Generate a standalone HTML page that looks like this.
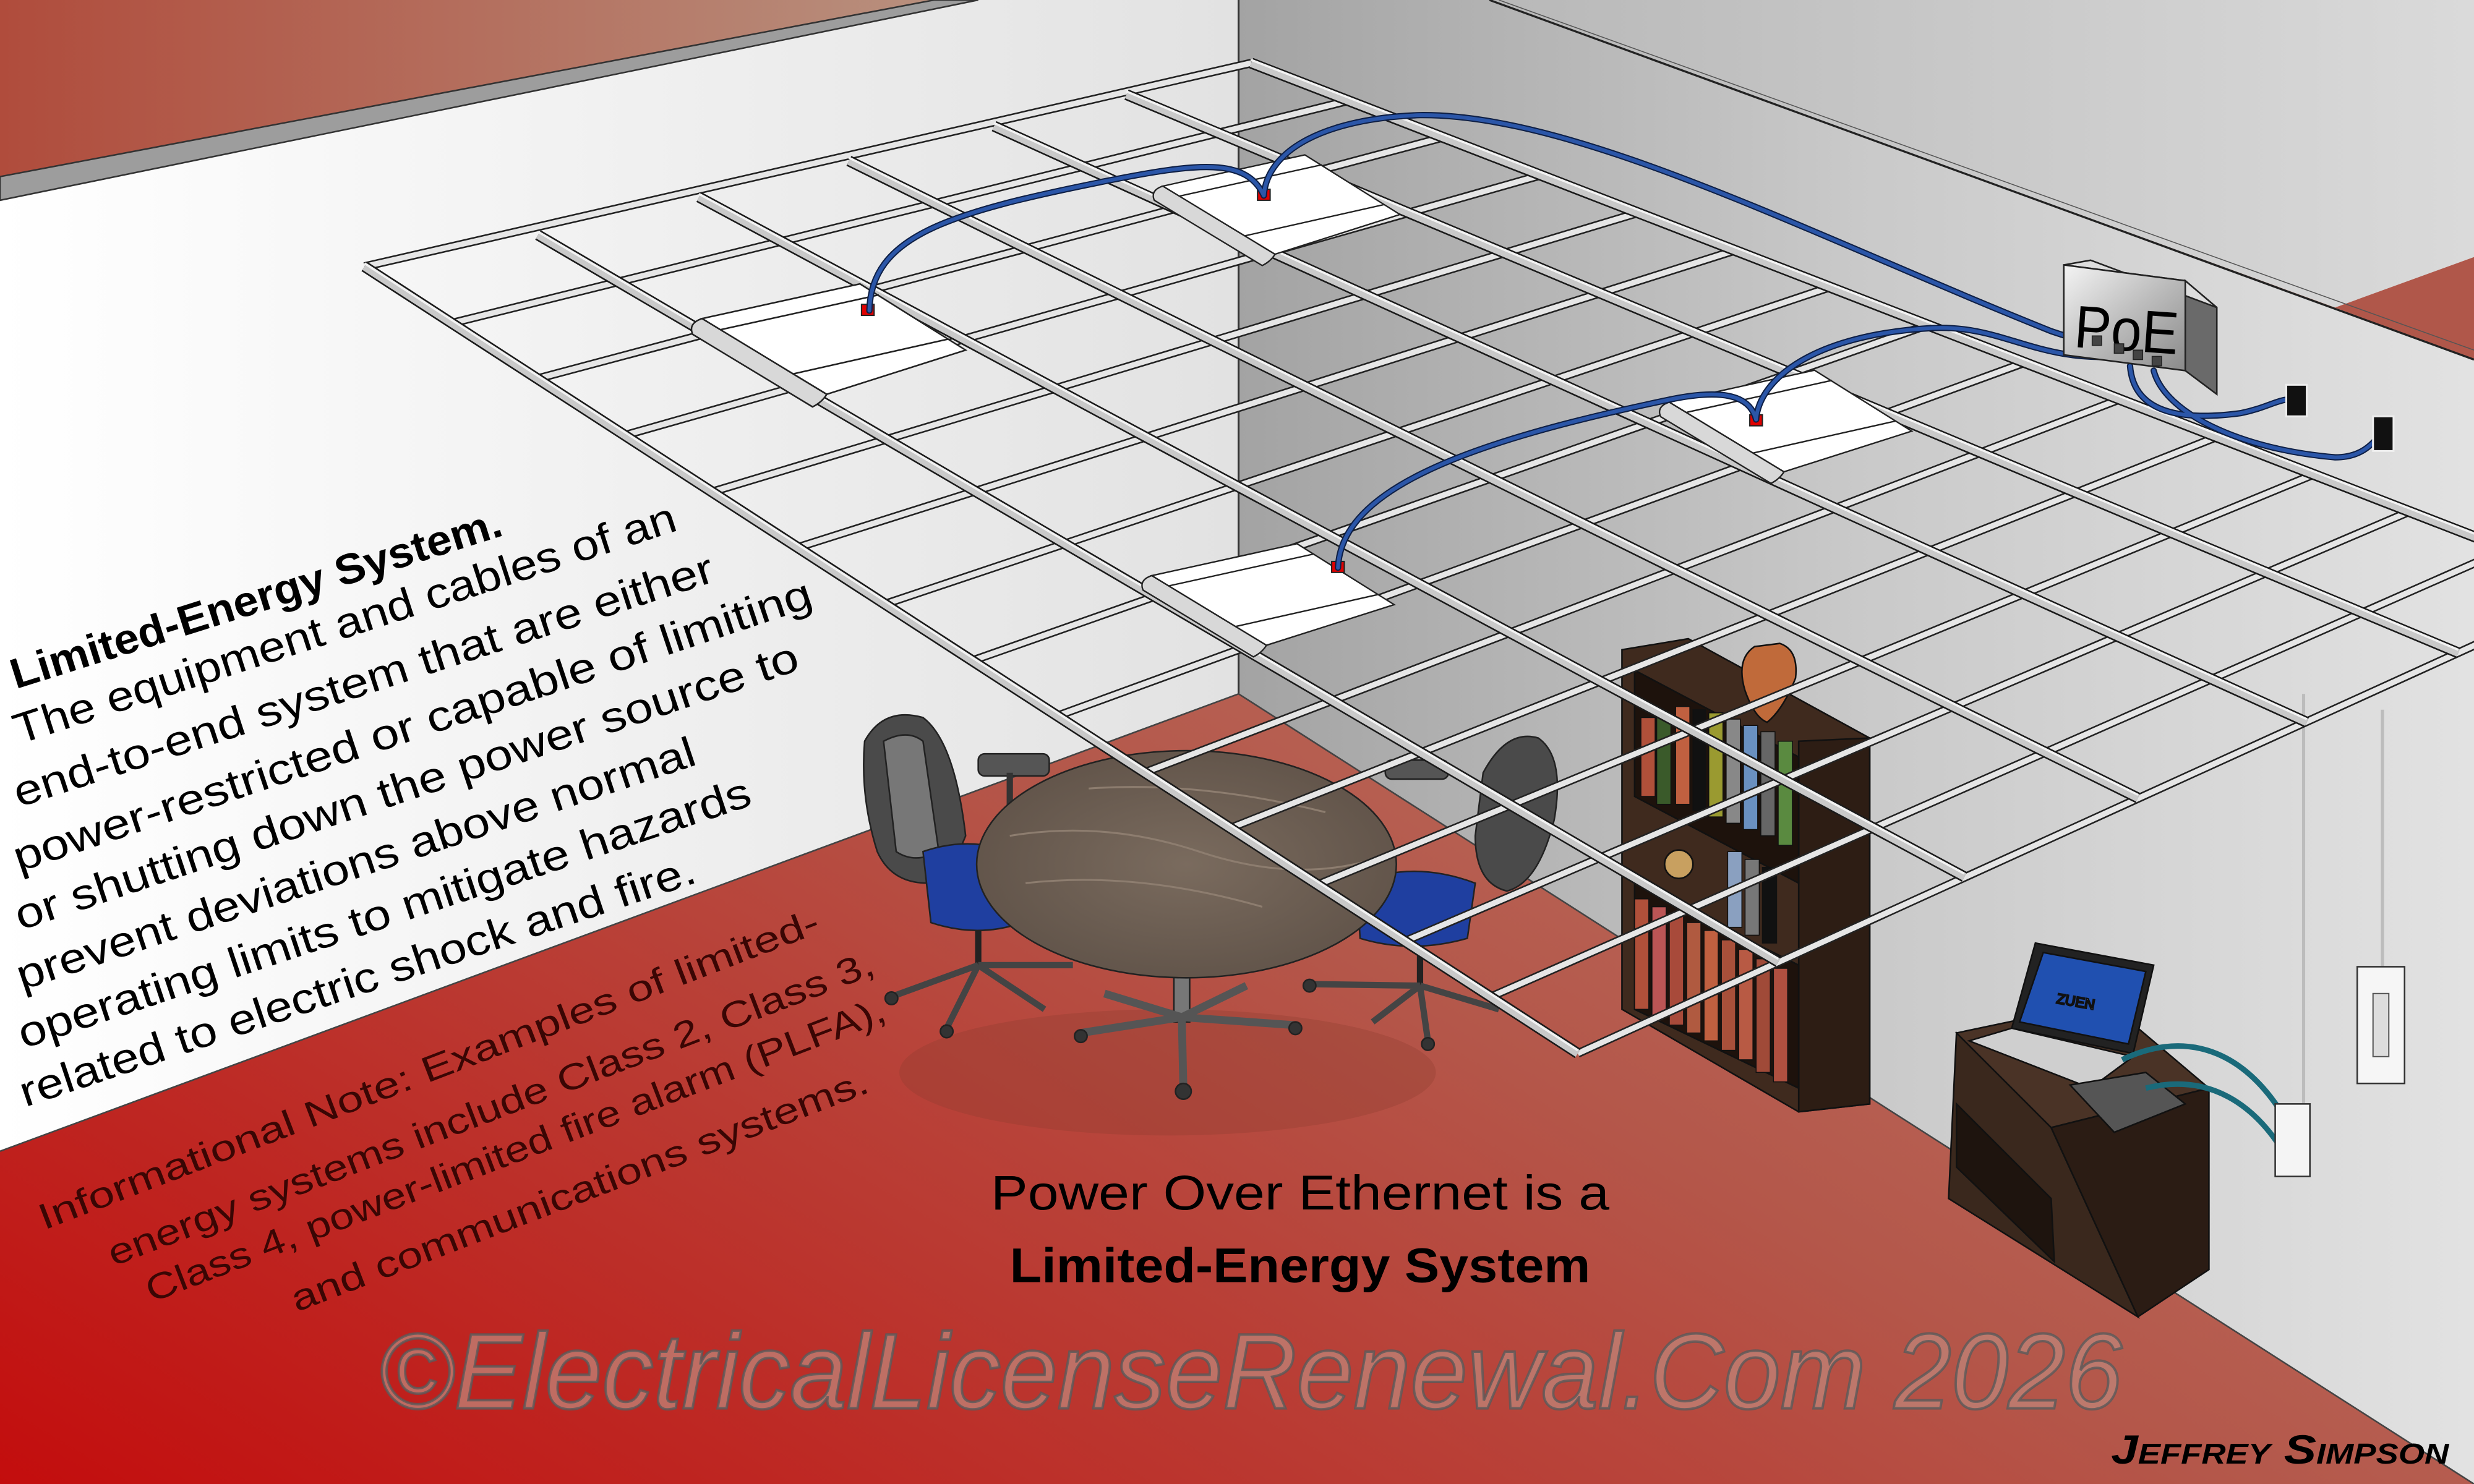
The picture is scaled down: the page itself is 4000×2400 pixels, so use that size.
<!DOCTYPE html>
<html><head><meta charset="utf-8"><style>
html,body{margin:0;padding:0;width:4000px;height:2400px;overflow:hidden;background:#b5614e}
svg{display:block}
</style></head><body>
<svg width="4000" height="2400" viewBox="0 0 1568 941" preserveAspectRatio="none" xmlns="http://www.w3.org/2000/svg">
<defs>
<linearGradient id="floor" x1="0" y1="1" x2="1" y2="0">
<stop offset="0" stop-color="#c30d0d"/><stop offset="0.45" stop-color="#b4574a"/><stop offset="1" stop-color="#c49482"/></linearGradient>
<linearGradient id="ceil" x1="0" y1="0" x2="1" y2="0">
<stop offset="0" stop-color="#b04c3c"/><stop offset="1" stop-color="#b8907e"/></linearGradient>
<linearGradient id="lwall" x1="0" y1="0" x2="1" y2="0">
<stop offset="0" stop-color="#ffffff"/><stop offset="1" stop-color="#e2e2e2"/></linearGradient>
<linearGradient id="rwall" x1="0" y1="0" x2="1" y2="0">
<stop offset="0" stop-color="#a3a3a3"/><stop offset="0.5" stop-color="#c9c9c9"/><stop offset="1" stop-color="#e2e2e2"/></linearGradient>
<linearGradient id="upper" x1="0" y1="0" x2="1" y2="0">
<stop offset="0" stop-color="#b8b8b8"/><stop offset="1" stop-color="#dadada"/></linearGradient>
<linearGradient id="poe" x1="0" y1="0" x2="1" y2="1">
<stop offset="0" stop-color="#f4f4f4"/><stop offset="0.5" stop-color="#bdbdbd"/><stop offset="1" stop-color="#8a8a8a"/></linearGradient>
<radialGradient id="tbl" cx="0.5" cy="0.5" r="0.6">
<stop offset="0" stop-color="#7a6b5e"/><stop offset="1" stop-color="#5e5147"/></radialGradient>
<g id="lamp">
<path d="M0,0 Q-9,3 -6,10 L70,56 Q76,53 79,48 Z" fill="#d8d8d8" stroke="#222" stroke-width="1"/>
<polygon points="0,0 100,-22 167,20 79,48" fill="#fff" stroke="#222" stroke-width="1"/>
<line x1="12" y1="7" x2="112" y2="-15" stroke="#222" stroke-width="1"/>
<line x1="58" y1="35" x2="156" y2="13" stroke="#222" stroke-width="1"/>
</g>
</defs>

<rect x="0" y="0" width="1568" height="941" fill="url(#floor)"/>
<polygon points="0,0 592,0 0,112" fill="url(#ceil)"/>
<polygon points="0,112 592,0 785,0 785,440 0,730" fill="url(#lwall)"/>
<polygon points="0,112 592,0 620,0 0,127" fill="#9d9d9d" stroke="#333" stroke-width="1"/>
<polygon points="785,0 944,0 1568,228 1568,941 785,440" fill="url(#rwall)"/>
<polygon points="944,0 1568,0 1568,165 1480,195" fill="url(#upper)"/>
<polygon points="1480,195 1568,163 1568,228" fill="#b0574a"/>
<polyline points="944,0 1568,228" fill="none" stroke="#222" stroke-width="1.3"/>
<polyline points="950,0 1568,222" fill="none" stroke="#555" stroke-width="0.6"/>
<line x1="785" y1="0" x2="785" y2="440" stroke="#333" stroke-width="1.2"/>
<line x1="0" y1="730" x2="785" y2="440" stroke="#444" stroke-width="1"/>
<line x1="785" y1="440" x2="1568" y2="941" stroke="#444" stroke-width="1"/>
<line x1="1460" y1="440" x2="1460" y2="705" stroke="#bcbcbc" stroke-width="2"/>
<line x1="1510" y1="450" x2="1510" y2="615" stroke="#bcbcbc" stroke-width="2"/>

<ellipse cx="740" cy="680" rx="170" ry="40" fill="#8a3a30" opacity="0.3"/>

<g stroke="#222" stroke-width="1">
<path d="M548,470 Q560,448 585,455 Q605,470 612,530 Q600,560 588,560 Q565,560 556,540 Q545,505 548,470Z" fill="#4a4a4a"/>
<path d="M560,470 Q575,462 585,470 L595,540 Q580,548 568,540Z" fill="#777"/>
<rect x="620" y="478" width="45" height="14" rx="4" fill="#555"/>
<line x1="640" y1="490" x2="640" y2="540" stroke="#333" stroke-width="4"/>
<path d="M585,540 Q620,528 650,545 L648,585 Q620,595 590,585Z" fill="#1f3fa0"/>
<line x1="620" y1="590" x2="620" y2="612" stroke-width="4"/>
<path d="M620,612 L565,632 M620,612 L600,652 M620,612 L662,640 M620,612 L680,612" stroke="#444" stroke-width="4"/>
<circle cx="565" cy="633" r="4" fill="#333"/><circle cx="600" cy="654" r="4" fill="#333"/>
</g>
<g stroke="#222" stroke-width="1">
<path d="M940,490 Q955,462 975,468 Q992,480 985,520 Q975,560 955,565 Q935,560 935,530Z" fill="#4a4a4a"/>
<rect x="878" y="482" width="40" height="12" rx="4" fill="#555"/>
<path d="M860,560 Q895,545 935,560 L930,595 Q895,605 862,595Z" fill="#1f3fa0"/>
<line x1="900" y1="600" x2="900" y2="625" stroke-width="4"/>
<path d="M900,625 L830,624 M900,625 L870,648 M900,625 L905,660 M900,625 L950,640" stroke="#444" stroke-width="4"/>
<circle cx="830" cy="625" r="4" fill="#333"/><circle cx="905" cy="662" r="4" fill="#333"/>
</g>
<g stroke="#222" stroke-width="1">
<rect x="744" y="590" width="10" height="58" fill="#777"/>
<path d="M749,645 L685,655 M749,645 L750,690 M749,645 L820,650 M749,645 L790,625 M749,645 L700,630" stroke="#555" stroke-width="5"/>
<circle cx="685" cy="657" r="4" fill="#333"/><circle cx="750" cy="692" r="5" fill="#333"/><circle cx="821" cy="652" r="4" fill="#333"/>
<ellipse cx="752" cy="548" rx="133" ry="72" fill="url(#tbl)"/>
<path d="M640,530 Q700,520 760,540 T870,545 M650,560 Q720,552 800,575 M690,500 Q760,495 840,515" stroke="#8d7d6f" stroke-width="1.2" fill="none"/>
</g>

<g stroke="#111" stroke-width="1">
<polygon points="1028,412 1070,405 1185,468 1185,700 1140,705 1028,640" fill="#3f2a1e"/>
<polygon points="1140,470 1185,468 1185,700 1140,705" fill="#2d1d14"/>
<polygon points="1036,425 1140,480 1140,560 1036,505" fill="#1d120c"/>
<polygon points="1036,560 1140,612 1140,690 1036,640" fill="#1d120c"/>
<g stroke-width="0.6">
<rect x="1040" y="455" width="9" height="50" fill="#b0503a"/><rect x="1050" y="455" width="9" height="55" fill="#3a5a2a"/>
<rect x="1062" y="448" width="9" height="62" fill="#c06040"/><rect x="1073" y="450" width="8" height="64" fill="#111"/>
<rect x="1083" y="452" width="9" height="66" fill="#9a9a30"/><rect x="1094" y="456" width="9" height="66" fill="#888"/>
<rect x="1105" y="460" width="9" height="66" fill="#6a90c0"/><rect x="1116" y="464" width="9" height="66" fill="#666"/>
<rect x="1127" y="470" width="9" height="66" fill="#5a8a40"/>
<rect x="1036" y="570" width="9" height="70" fill="#b0503a"/><rect x="1047" y="575" width="9" height="70" fill="#b55"/>
<rect x="1058" y="580" width="9" height="70" fill="#a84a3a"/><rect x="1069" y="585" width="9" height="70" fill="#b05a40"/>
<rect x="1080" y="590" width="9" height="70" fill="#c06040"/><rect x="1091" y="596" width="9" height="70" fill="#a8503a"/>
<rect x="1102" y="602" width="9" height="70" fill="#b85a44"/><rect x="1113" y="608" width="9" height="72" fill="#a04a38"/>
<rect x="1124" y="614" width="9" height="72" fill="#b05040"/>
<rect x="1095" y="540" width="9" height="48" fill="#8aa0c0"/><rect x="1106" y="545" width="9" height="48" fill="#777"/><rect x="1117" y="550" width="9" height="48" fill="#111"/>
</g>
<path d="M1112,410 Q1100,418 1106,438 Q1112,455 1120,458 Q1130,450 1138,430 Q1140,412 1128,408Z" fill="#c06a3a"/>
<circle cx="1064" cy="548" r="9" fill="#c8a060"/>
</g>

<g stroke="#111" stroke-width="1">
<polygon points="1240,655 1335,635 1400,690 1300,715" fill="#4a3326"/>
<polygon points="1240,655 1300,715 1355,835 1235,760" fill="#3a281d"/>
<polygon points="1300,715 1400,690 1400,805 1355,835" fill="#2b1c14"/>
<polygon points="1240,700 1300,760 1302,800 1240,740" fill="#1e140e"/>
<polygon points="1290,598 1365,612 1352,668 1275,652" fill="#222"/>
<polygon points="1295,604 1360,616 1349,662 1280,648" fill="#2050b0"/>
<text x="1303" y="636" font-family="Liberation Sans, sans-serif" font-size="9" fill="#fff" transform="rotate(10 1303 636)">ZUEN</text>
<polygon points="1248,660 1275,652 1352,670 1325,690" fill="#cfcfcf"/>
<polygon points="1312,688 1360,680 1385,700 1340,718" fill="#555"/>
</g>
<path d="M1345,672 C1380,655 1420,660 1450,712" fill="none" stroke="#1a6a7a" stroke-width="3.5"/>
<path d="M1360,690 C1400,680 1430,700 1450,735" fill="none" stroke="#1a6a7a" stroke-width="3.5"/>
<rect x="1442" y="700" width="22" height="46" fill="#f4f4f4" stroke="#333" stroke-width="1"/>
<rect x="1494" y="613" width="30" height="74" fill="#f6f6f6" stroke="#333" stroke-width="1"/>
<rect x="1504" y="630" width="10" height="40" fill="#ddd" stroke="#555" stroke-width="0.8"/>

<!-- grid -->
<g id="tees">
<g stroke="#222" stroke-width="5.5">
<line x1="286" y1="205" x2="854" y2="64"/><line x1="341" y1="240" x2="915" y2="87"/>
<line x1="396" y1="276" x2="977" y2="111"/><line x1="451" y1="312" x2="1038" y2="135"/>
<line x1="506" y1="347" x2="1099" y2="159"/><line x1="561" y1="383" x2="1160" y2="182"/>
<line x1="616" y1="419" x2="1222" y2="206"/><line x1="670" y1="454" x2="1283" y2="230"/>
<line x1="725" y1="490" x2="1344" y2="253"/><line x1="780" y1="525" x2="1405" y2="277"/>
<line x1="835" y1="561" x2="1466" y2="301"/><line x1="890" y1="597" x2="1528" y2="324"/>
<line x1="945" y1="632" x2="1589" y2="348"/>
<line x1="231" y1="169" x2="793" y2="40"/><line x1="1000" y1="668" x2="1650" y2="372"/>
</g>
<g stroke="#e6e6e6" stroke-width="3.5">
<line x1="286" y1="205" x2="854" y2="64"/><line x1="341" y1="240" x2="915" y2="87"/>
<line x1="396" y1="276" x2="977" y2="111"/><line x1="451" y1="312" x2="1038" y2="135"/>
<line x1="506" y1="347" x2="1099" y2="159"/><line x1="561" y1="383" x2="1160" y2="182"/>
<line x1="616" y1="419" x2="1222" y2="206"/><line x1="670" y1="454" x2="1283" y2="230"/>
<line x1="725" y1="490" x2="1344" y2="253"/><line x1="780" y1="525" x2="1405" y2="277"/>
<line x1="835" y1="561" x2="1466" y2="301"/><line x1="890" y1="597" x2="1528" y2="324"/>
<line x1="945" y1="632" x2="1589" y2="348"/>
<line x1="231" y1="169" x2="793" y2="40"/><line x1="1000" y1="668" x2="1650" y2="372"/>
</g>
</g>
<g stroke="#1a1a1a" stroke-width="7">
<line x1="231" y1="169" x2="1000" y2="668"/><line x1="341" y1="149" x2="1127" y2="610"/>
<line x1="443" y1="125" x2="1245" y2="556"/><line x1="538" y1="102" x2="1355" y2="506"/>
<line x1="630" y1="80" x2="1462" y2="458"/><line x1="714" y1="60" x2="1558" y2="414"/>
<line x1="793" y1="40" x2="1650" y2="372"/>
</g>
<g stroke="#c9c9c9" stroke-width="5">
<line x1="231" y1="169" x2="1000" y2="668"/><line x1="341" y1="149" x2="1127" y2="610"/>
<line x1="443" y1="125" x2="1245" y2="556"/><line x1="538" y1="102" x2="1355" y2="506"/>
<line x1="630" y1="80" x2="1462" y2="458"/><line x1="714" y1="60" x2="1558" y2="414"/>
<line x1="793" y1="40" x2="1650" y2="372"/>
</g>
<g stroke="#f2f2f2" stroke-width="1.4">
<line x1="231" y1="167" x2="1000" y2="666"/><line x1="341" y1="147" x2="1127" y2="608"/>
<line x1="443" y1="123" x2="1245" y2="554"/><line x1="538" y1="100" x2="1355" y2="504"/>
<line x1="630" y1="78" x2="1462" y2="456"/><line x1="714" y1="58" x2="1558" y2="412"/>
<line x1="793" y1="38" x2="1650" y2="370"/>
</g>

<!-- lights -->
<use href="#lamp" transform="translate(445,202)"/>
<use href="#lamp" transform="translate(737,118) scale(0.9)"/>
<use href="#lamp" transform="translate(1058,255) scale(0.92)"/>
<use href="#lamp" transform="translate(730,365) scale(0.92)"/>
<g fill="#e00000" stroke="#222" stroke-width="0.8">
<rect x="546" y="193" width="8" height="7"/><rect x="797" y="120" width="8" height="7"/>
<rect x="1109" y="263" width="8" height="7"/><rect x="844" y="356" width="8" height="7"/>
</g>

<!-- cables -->
<g fill="none" stroke-linecap="round">
<g stroke="#0e1f45" stroke-width="4">
<path d="M551,197 C552,150 600,135 700,115 C760,103 790,100 801,124"/>
<path d="M801,124 C803,95 840,75 900,73 C1000,72 1150,150 1300,210 C1315,215 1325,218 1330,218"/>
<path d="M848,360 C850,310 930,280 1060,253 C1100,245 1110,255 1113,266"/>
<path d="M1113,266 C1115,240 1150,212 1225,208 C1270,206 1290,230 1345,226"/>
<path d="M1350,232 C1352,258 1375,268 1420,262 C1440,258 1448,250 1455,255"/>
<path d="M1365,235 C1372,262 1420,285 1480,290 C1500,290 1505,278 1510,275"/>
</g>
<g stroke="#2b56a8" stroke-width="2.4">
<path d="M551,197 C552,150 600,135 700,115 C760,103 790,100 801,124"/>
<path d="M801,124 C803,95 840,75 900,73 C1000,72 1150,150 1300,210 C1315,215 1325,218 1330,218"/>
<path d="M848,360 C850,310 930,280 1060,253 C1100,245 1110,255 1113,266"/>
<path d="M1113,266 C1115,240 1150,212 1225,208 C1270,206 1290,230 1345,226"/>
<path d="M1350,232 C1352,258 1375,268 1420,262 C1440,258 1448,250 1455,255"/>
<path d="M1365,235 C1372,262 1420,285 1480,290 C1500,290 1505,278 1510,275"/>
</g>
</g>
<polygon points="1385,178 1405,195 1405,250 1385,235" fill="#6a6a6a" stroke="#222" stroke-width="1"/>
<polygon points="1308,168 1325,165 1405,195 1385,178" fill="#ddd" stroke="#222" stroke-width="1"/>
<polygon points="1308,168 1385,178 1385,235 1308,225" fill="url(#poe)" stroke="#222" stroke-width="1"/>
<text x="1314" y="220" font-family="Liberation Sans, sans-serif" font-size="38" fill="#000" transform="rotate(4 1314 220)" textLength="66" lengthAdjust="spacingAndGlyphs">PoE</text>
<g fill="#444" stroke="#222" stroke-width="0.6">
<rect x="1326" y="213" width="6" height="6"/><rect x="1340" y="218" width="6" height="6"/><rect x="1352" y="222" width="6" height="6"/><rect x="1364" y="226" width="6" height="6"/>
</g>
<rect x="1449" y="244" width="13" height="20" fill="#111" stroke="#eee" stroke-width="1.2"/>
<rect x="1504" y="264" width="13" height="22" fill="#111" stroke="#eee" stroke-width="1.2"/>

<g font-family="Liberation Sans, 'DejaVu Sans', sans-serif" font-size="27" fill="#000">
<text x="10" y="437" font-weight="bold" transform="rotate(-17.5 10 437)" textLength="325" lengthAdjust="spacingAndGlyphs">Limited-Energy System.</text>
<text x="12" y="472" transform="rotate(-18 12 472)" textLength="440" lengthAdjust="spacingAndGlyphs">The equipment and cables of an</text>
<text x="12" y="512" transform="rotate(-18 12 512)" textLength="465" lengthAdjust="spacingAndGlyphs">end-to-end system that are either</text>
<text x="12" y="553" transform="rotate(-18.5 12 553)" textLength="532" lengthAdjust="spacingAndGlyphs">power-restricted or capable of limiting</text>
<text x="13" y="590" transform="rotate(-18.5 13 590)" textLength="522" lengthAdjust="spacingAndGlyphs">or shutting down the power source to</text>
<text x="14" y="628" transform="rotate(-18.5 14 628)" textLength="452" lengthAdjust="spacingAndGlyphs">prevent deviations above normal</text>
<text x="15" y="665" transform="rotate(-18.5 15 665)" textLength="488" lengthAdjust="spacingAndGlyphs">operating limits to mitigate hazards</text>
<text x="16" y="702" transform="rotate(-18.5 16 702)" textLength="450" lengthAdjust="spacingAndGlyphs">related to electric shock and fire.</text>
</g>
<g font-family="Liberation Sans, 'DejaVu Sans', sans-serif" font-size="23" fill="#3a0604">
<text x="28" y="780" transform="rotate(-21 28 780)" textLength="528" lengthAdjust="spacingAndGlyphs">Informational Note: Examples of limited-</text>
<text x="72" y="803" transform="rotate(-21 72 803)" textLength="518" lengthAdjust="spacingAndGlyphs">energy systems include Class 2, Class 3,</text>
<text x="96" y="826" transform="rotate(-21 96 826)" textLength="500" lengthAdjust="spacingAndGlyphs">Class 4, power-limited fire alarm (PLFA),</text>
<text x="188" y="832" transform="rotate(-21 188 832)" textLength="390" lengthAdjust="spacingAndGlyphs">and communications systems.</text>
</g>
<text x="628" y="767" font-family="Liberation Sans, sans-serif" font-size="31" fill="#000" textLength="392" lengthAdjust="spacingAndGlyphs">Power Over Ethernet is a</text>
<text x="640" y="813" font-family="Liberation Sans, sans-serif" font-size="31" font-weight="bold" fill="#000" textLength="368" lengthAdjust="spacingAndGlyphs">Limited-Energy System</text>
<text x="240" y="893" font-family="Liberation Sans, sans-serif" font-size="68" font-style="italic" fill="#c08478" fill-opacity="0.75" stroke="#5a5a5a" stroke-width="1.6" stroke-opacity="0.8" textLength="1105" lengthAdjust="spacingAndGlyphs">©ElectricalLicenseRenewal.Com 2026</text>
<text x="1338" y="928" font-family="Liberation Sans, sans-serif" font-size="26" font-weight="bold" font-style="italic" font-variant="small-caps" fill="#000" textLength="214" lengthAdjust="spacingAndGlyphs">Jeffrey Simpson</text>
</svg>
</body></html>
